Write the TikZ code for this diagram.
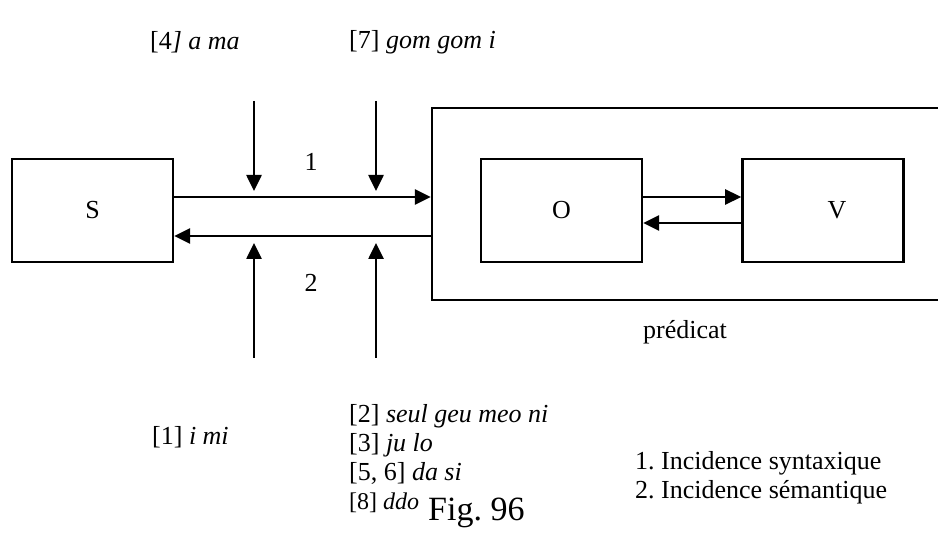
\documentclass[tikz,border=0pt]{standalone}
\usepackage{fontspec}
\setmainfont{Liberation Serif}
\frenchspacing
\usetikzlibrary{positioning,arrows.meta}

\begin{document}
\begin{tikzpicture}[
    x=1pt, y=-1pt,
    node distance=98pt,
    every node/.style={font=\fontsize{26}{29}\selectfont},
    box/.style={
        rectangle,
        draw,
        line width=2.4pt,
        minimum width=161pt,
        minimum height=103pt
    },
    txt/.style={
        inner sep=0pt
    },
    arrow/.style={
        -{Triangle[length=16pt,width=15pt]},
        line width=2.6pt
    }
]

\clip (0,0) rectangle (938,537);

\node[box] (s) at (92.5,210.5) {S};

\node[box] (o) at (561.5,210.5) {O};

\node[box, right=of o] (v) {\hspace{28pt}V};

\node[box, minimum width=520pt, minimum height=192pt] (pred) at (692,204) {};

\node (predlbl) at (685,332) {prédicat};

% incidence lines S <-> predicate
\coordinate (syn) at ([yshift=13.5pt]s.east);
\coordinate (sem) at ([yshift=-25.5pt]s.east);

\draw[arrow] (syn) -- (syn -| pred.west);
\draw[arrow] (sem -| pred.west) -- (sem);

\node (n1) at (311,162) {1};
\node (n2) at (311,283) {2};

\draw[arrow] ([yshift=13.5pt]o.east) -- ([yshift=13.5pt]v.west);
\draw[arrow] ([yshift=-12.5pt]v.west) -- ([yshift=-12.5pt]o.east);

% incoming arrows
\coordinate (a4) at (254,101);
\coordinate (a7) at (376,101);
\coordinate (a1) at (254,358);
\coordinate (a2) at (376,358);

\draw[arrow, shorten >=6pt] (a4) -- (a4 |- syn);
\draw[arrow, shorten >=6pt] (a7) -- (a7 |- syn);
\draw[arrow, shorten >=7pt] (a1) -- (a1 |- sem);
\draw[arrow, shorten >=7pt] (a2) -- (a2 |- sem);

\node[txt, anchor=west] (l4) at (150,42) {[4\textit{] a ma}};
\node[txt, anchor=west] (l7) at (349,42) {[7] \textit{gom gom i}};
\node[txt, anchor=west] (l1) at (152,437) {[1] \textit{i mi}};

\node[txt, anchor=north west, align=left] (l2) at (349,404)
{[2] \textit{seul geu meo ni}\\{}[3] \textit{ju lo}\\{}[5, 6] \textit{da si}\\
{\fontsize{24}{29}\selectfont [8] \textit{ddo}}};

\node[txt, anchor=base west, font=\fontsize{34}{40}\selectfont] (fig) at (428,520) {Fig. 96};

\node[txt, anchor=north west, align=left] (legend) at (635,451)
{1. Incidence syntaxique\\2. Incidence sémantique};

\end{tikzpicture}
\end{document}
